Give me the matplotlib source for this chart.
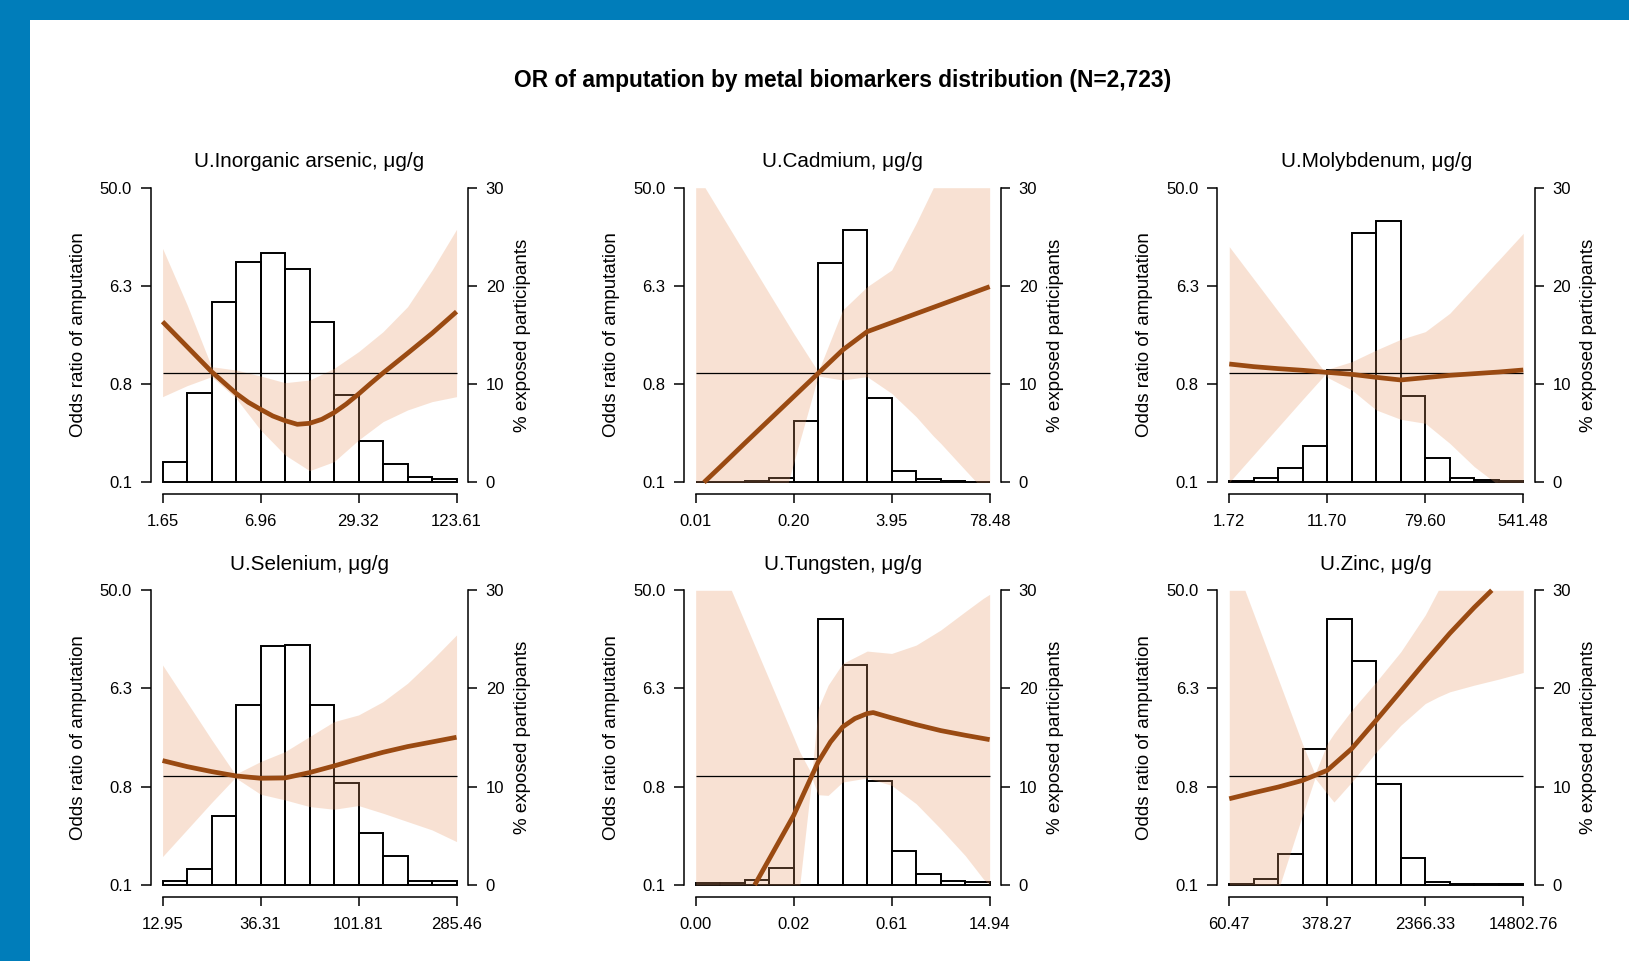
import numpy as np
import matplotlib
matplotlib.use("Agg")
import matplotlib.pyplot as plt
from matplotlib.patches import Rectangle
from matplotlib.ticker import NullLocator

plt.rcParams['font.family'] = ['Liberation Sans', 'DejaVu Sans']

# ---- data: x values are log(concentration), fits/bands are log(OR) ----
# Inorganic arsenic
as_edges = [0.5008, 0.8605, 1.2202, 1.5799, 1.9396, 2.2993, 2.6590, 3.0187, 3.3783, 3.7380, 4.0977, 4.4574, 4.8171]
as_pct = [2.1, 9.1, 18.4, 22.4, 23.4, 21.7, 16.3, 8.9, 4.2, 1.9, 0.5, 0.35]
as_fit_x = [0.5008, 0.8605, 1.2202, 1.5799, 1.7598, 1.9396, 2.1194, 2.2993, 2.4790, 2.6590,
            2.8390, 3.0187, 3.1985, 3.3783, 3.5581, 3.7380, 4.0977, 4.4574, 4.8171]
as_fit = [1.086, 0.559, 0.031, -0.426, -0.615, -0.763, -0.904, -1.002, -1.079, -1.058,
          -0.974, -0.833, -0.651, -0.440, -0.215, 0.003, 0.418, 0.840, 1.297]
as_band_x = as_edges
as_hi = [2.632, 1.444, 0.137, 0.066, -0.060, -0.201, -0.145, 0.101, 0.453, 0.875, 1.402, 2.175, 3.033]
as_lo = [-0.496, -0.264, -0.074, -0.531, -1.199, -1.726, -2.057, -1.867, -1.410, -1.023, -0.777, -0.601, -0.496]
as_xt = ['1.65', '6.96', '29.32', '123.61']

# Cadmium
cd_edges = [-4.6052, -3.8578, -3.1105, -2.3632, -1.6158, -0.8685, -0.1212, 0.6262, 1.3735, 2.1208, 2.8682, 3.6155, 4.3629]
cd_pct = [0.07, 0.07, 0.17, 0.45, 6.2, 22.3, 25.7, 8.6, 1.2, 0.3, 0.17, 0.07]
cd_fit_x = [-4.351, -3.8578, -3.1105, -2.3632, -1.6158, -0.8685, -0.1212, 0.6262, 1.3735, 2.1208, 2.8682, 3.6155, 4.3629]
cd_fit = [-2.303, -1.979, -1.480, -0.988, -0.496, -0.004, 0.488, 0.875, 1.065, 1.255, 1.444, 1.634, 1.824]
cd_band_x = [-4.6052, -4.3205, -3.8578, -3.1105, -2.3632, -1.7785, -1.6158, -0.8685, -0.1212, 0.6262,
             1.3735, 2.1208, 2.6446, 2.8682, 3.6155, 3.9665, 4.3629]
cd_hi = [3.912, 3.912, 3.385, 2.534, 1.683, 1.023, 0.840, 0.031, 1.332, 1.824, 2.176, 3.160, 3.912, 3.912, 3.912, 3.912, 3.912]
cd_lo = [-2.303, -2.303, -2.303, -2.303, -2.303, -2.303, -1.895, -0.060, -0.144, -0.074, -0.426, -0.918, -1.325, -1.480, -2.043, -2.303, -2.303]
cd_xt = ['0.01', '0.20', '3.95', '78.48']

# Molybdenum
mo_edges = [0.5423, 1.0217, 1.5010, 1.9803, 2.4597, 2.9390, 3.4183, 3.8977, 4.3770, 4.8563, 5.3356, 5.8150, 6.2943]
mo_pct = [0.1, 0.45, 1.5, 3.7, 11.4, 25.4, 26.6, 8.8, 2.5, 0.4, 0.2, 0.15]
mo_fit_x = mo_edges
mo_fit = [0.193, 0.137, 0.095, 0.060, 0.017, -0.025, -0.088, -0.144, -0.095, -0.046, -0.011, 0.024, 0.067]
mo_band_x = [0.5423, 1.0217, 1.5010, 1.9803, 2.4140, 2.4597, 2.9390, 3.4183, 3.8977, 4.3770, 4.8563, 5.3356, 5.7398, 5.8150, 6.2943]
mo_hi = [2.668, 1.986, 1.304, 0.629, 0.024, 0.081, 0.242, 0.488, 0.713, 0.875, 1.262, 1.824, 2.302, 2.386, 2.949]
mo_lo = [-2.303, -1.719, -1.136, -0.552, -0.032, -0.088, -0.355, -0.777, -0.974, -1.058, -1.480, -1.972, -2.303, -2.303, -2.303]
mo_xt = ['1.72', '11.70', '79.60', '541.48']

# Selenium
se_edges = [2.5611, 2.8189, 3.0766, 3.3344, 3.5921, 3.8499, 4.1076, 4.3654, 4.6231, 4.8809, 5.1386, 5.3964, 5.6541]
se_pct = [0.35, 1.65, 7.0, 18.3, 24.3, 24.4, 18.3, 10.4, 5.3, 2.95, 0.35, 0.35]
se_fit_x = se_edges
se_fit = [0.320, 0.193, 0.088, -0.004, -0.053, -0.046, 0.067, 0.207, 0.355, 0.495, 0.615, 0.713, 0.812]
se_band_x = [2.5611, 2.8189, 3.0766, 3.3256, 3.5921, 3.8499, 4.1076, 4.3654, 4.6231, 4.8809, 5.1386, 5.3964, 5.6541]
se_hi = [2.337, 1.550, 0.763, 0.031, 0.299, 0.509, 0.826, 1.142, 1.283, 1.564, 1.951, 2.443, 2.970]
se_lo = [-1.705, -1.136, -0.566, -0.039, -0.390, -0.510, -0.650, -0.707, -0.629, -0.791, -0.967, -1.143, -1.389]
se_xt = ['12.95', '36.31', '101.81', '285.46']

# Tungsten
w_edges = [-6.890, -6.0905, -5.291, -4.4915, -3.692, -2.8925, -2.093, -1.2935, -0.494, 0.3055, 1.105, 1.9045, 2.704]
w_pct = [0.2, 0.17, 0.5, 1.75, 12.8, 27.1, 22.4, 10.6, 3.5, 1.15, 0.4, 0.25]
w_fit_x = [-4.963, -4.4915, -3.692, -2.8925, -2.490, -2.093, -1.696, -1.2935, -1.0965, -0.494, 0.3055, 1.105, 1.9045, 2.704]
w_fit = [-2.303, -1.760, -0.837, 0.290, 0.713, 1.030, 1.206, 1.312, 1.333, 1.220, 1.079, 0.953, 0.854, 0.762]
w_band_x = [-6.890, -5.725, -5.291, -4.4915, -3.692, -3.4924, -3.100, -2.8925, -2.5668, -2.093, -1.2935, -0.494,
            0.3055, 1.105, 1.9045, 2.4968, 2.704]
w_hi = [3.912, 3.912, 3.250, 2.031, 0.812, 0.502, 0.030, 1.418, 1.911, 2.369, 2.630, 2.580, 2.756, 3.073, 3.461, 3.743, 3.827]
w_lo = [-2.303, -2.303, -2.303, -2.303, -2.303, -2.303, -0.050, -0.400, -0.414, -0.132, -0.048, -0.203, -0.590, -1.119, -1.683, -2.176, -2.303]
w_xt = ['0.00', '0.02', '0.61', '14.94']

# Zinc
zn_edges = [4.1022, 4.5605, 5.0189, 5.4773, 5.9356, 6.3940, 6.8524, 7.3107, 7.7691, 8.2275, 8.6858, 9.1442, 9.6026]
zn_pct = [0.1, 0.6, 3.1, 13.8, 27.1, 22.8, 10.3, 2.7, 0.3, 0.1, 0.07, 0.12]
zn_fit_x = [4.1022, 4.5605, 5.0189, 5.4773, 5.9356, 6.3940, 6.8524, 7.3107, 7.7691, 8.2275, 8.6858, 9.014]
zn_fit = [-0.485, -0.358, -0.238, -0.097, 0.114, 0.572, 1.171, 1.784, 2.404, 3.003, 3.550, 3.912]
zn_band_x = [4.1022, 4.3953, 4.5605, 5.0189, 5.0501, 5.4773, 5.7049, 5.9356, 6.0604, 6.3940, 6.8524, 7.3107,
             7.7691, 8.0124, 8.2275, 8.6858, 9.1442, 9.6026]
zn_hi = [3.912, 3.912, 3.415, 2.038, 1.946, 0.657, 0.037, 0.678, 0.889, 1.382, 1.981, 2.615, 3.391, 3.912, 3.912, 3.912, 3.912, 3.912]
zn_lo = [-2.303, -2.303, -2.303, -2.303, -2.303, -0.816, -0.048, -0.379, -0.555, -0.132, 0.502, 1.065, 1.523, 1.664, 1.770, 1.911, 2.038, 2.178]
zn_xt = ['60.47', '378.27', '2366.33', '14802.76']

titles = ['U.Inorganic arsenic, \u03bcg/g', 'U.Cadmium, \u03bcg/g', 'U.Molybdenum, \u03bcg/g',
          'U.Selenium, \u03bcg/g', 'U.Tungsten, \u03bcg/g', 'U.Zinc, \u03bcg/g']
or_ticklabels = ['0.1', '0.8', '6.3', '50.0']
pct_ticks = [0, 10, 20, 30]

panels = [
    (as_edges, as_pct, as_fit_x, as_fit, as_band_x, as_hi, as_lo, as_xt),
    (cd_edges, cd_pct, cd_fit_x, cd_fit, cd_band_x, cd_hi, cd_lo, cd_xt),
    (mo_edges, mo_pct, mo_fit_x, mo_fit, mo_band_x, mo_hi, mo_lo, mo_xt),
    (se_edges, se_pct, se_fit_x, se_fit, se_band_x, se_hi, se_lo, se_xt),
    (w_edges, w_pct, w_fit_x, w_fit, w_band_x, w_hi, w_lo, w_xt),
    (zn_edges, zn_pct, zn_fit_x, zn_fit, zn_band_x, zn_hi, zn_lo, zn_xt),
]

BLUE = '#007DBA'
CURVE = '#9A4A12'
BAND = (230/255, 150/255, 100/255)

W, H = 1629, 961
fig = plt.figure(figsize=(W/100, H/100), dpi=100)
fig.add_artist(Rectangle((0, 1 - 20/H), 1, 20/H, transform=fig.transFigure,
                         facecolor=BLUE, edgecolor='none'))
fig.add_artist(Rectangle((0, 0), 30/W, 1, transform=fig.transFigure,
                         facecolor=BLUE, edgecolor='none'))

fig.text(843/W, 1 - 87/H, 'OR of amputation by metal biomarkers distribution (N=2,723)',
         ha='center', va='baseline', fontsize=16.4, fontweight='bold')

col_left = [150.8, 683.9, 1217.5]
row_top = [175.9, 578.5]
aw, ah = 317.5, 318.2

or_lo, or_hi = 0.1, 50.0
lpad = (np.log(or_hi) - np.log(or_lo)) * 0.04

for i, (edges, pct, fx, fy, bx, bhi, blo, xt) in enumerate(panels):
    r, c = divmod(i, 3)
    ax = fig.add_axes([col_left[c]/W, 1 - (row_top[r] + ah)/H, aw/W, ah/H])
    ax2 = ax.twinx()

    edges = np.array(edges)
    # histogram (% exposed), right axis
    ax.bar(edges[:-1], pct, width=np.diff(edges), align='edge', facecolor='none',
           edgecolor='black', linewidth=1.4, zorder=2)
    ax.set_ylim(-1.2, 31.2)
    xr = edges[-1] - edges[0]
    ax.set_xlim(edges[0] - 0.04*xr, edges[-1] + 0.04*xr)
    ax.yaxis.tick_right()
    ax.yaxis.set_label_position('right')
    ax.set_yticks(pct_ticks)
    ax.set_xticks(edges[[0, 4, 8, 12]])
    ax.set_xticklabels(xt)
    for s in ['top', 'left']:
        ax.spines[s].set_visible(False)
    ax.spines['right'].set_bounds(0, 30)
    ax.spines['bottom'].set_bounds(edges[0], edges[-1])
    for s in ['right', 'bottom']:
        ax.spines[s].set_linewidth(1.1)
    ax.tick_params(axis='y', length=6.5, width=1.1, pad=6, labelsize=12)
    ax.tick_params(axis='x', length=6.5, width=1.1, pad=8, labelsize=12)
    ax.set_ylabel('% exposed participants', fontsize=13.5)
    ax.yaxis.label.set_va('center')
    ax.yaxis.set_label_coords(1.170, 0.5)

    # odds ratio, left log axis
    ax2.set_yscale('log')
    ax2.set_ylim(np.exp(np.log(or_lo) - lpad), np.exp(np.log(or_hi) + lpad))
    ax2.yaxis.tick_left()
    ax2.yaxis.set_label_position('left')
    ax2.set_yticks(np.geomspace(or_lo, or_hi, 4))
    ax2.set_yticklabels(or_ticklabels)
    ax2.yaxis.set_minor_locator(NullLocator())
    for s in ['top', 'right', 'bottom']:
        ax2.spines[s].set_visible(False)
    ax2.spines['left'].set_bounds(or_lo, or_hi)
    ax2.spines['left'].set_linewidth(1.1)
    ax2.tick_params(axis='y', length=7, width=1.1, pad=6.5, labelsize=12)
    ax2.set_ylabel('Odds ratio of amputation', fontsize=13.5)
    ax2.yaxis.label.set_va('center')
    ax2.yaxis.set_label_coords(-0.229, 0.5)

    ax2.fill_between(bx, np.exp(blo), np.exp(bhi), color=BAND, alpha=0.28, linewidth=0, zorder=1)
    ax2.hlines(1.0, edges[0], edges[-1], color='black', linewidth=0.9, zorder=3)
    ax2.plot(fx, np.exp(fy), color=CURVE, linewidth=3.4, solid_capstyle='butt',
             solid_joinstyle='round', zorder=4)

    ax2.text(0.5, 1.027, titles[i], transform=ax2.transAxes, ha='center', va='baseline',
             fontsize=14.9)

fig.savefig('out.png', dpi=100, facecolor='white')
